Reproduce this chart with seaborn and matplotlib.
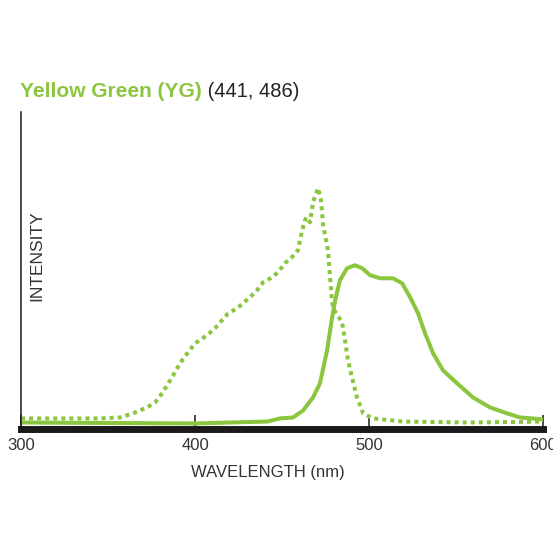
import numpy as np
import pandas as pd
import matplotlib
matplotlib.use("Agg")
import matplotlib.pyplot as plt
import seaborn as sns

# Excitation spectrum (dotted)
ex_nm = [300.0, 322.4, 345.4, 356.9, 364.4, 372.4, 377.0, 381.0, 383.9, 386.8, 389.7,
         392.5, 396.0, 400.0, 406.9, 411.5, 415.5, 419.0, 424.1, 427.6, 431.6, 435.6,
         439.1, 444.3, 447.7, 451.7, 455.7, 459.2, 460.3, 462.1, 463.8, 466.1, 467.8,
         470.7, 472.4, 473.6, 475.3, 476.4, 477.6, 478.7, 479.3, 484.5, 486.2, 487.9,
         490.2, 493.1, 496.6, 502.3, 519.5, 558.0, 600.0]
ex_int = [4.2, 4.2, 4.2, 4.6, 6.3, 8.8, 10.8, 14.6, 17.9, 21.3, 25.0,
          28.3, 31.7, 35.4, 38.8, 41.7, 45.0, 47.9, 50.0, 52.1, 54.6, 57.5,
          60.8, 62.9, 65.0, 68.8, 71.3, 74.2, 78.3, 83.8, 87.9, 85.8, 94.2,
          100.0, 95.0, 84.6, 78.3, 74.2, 62.9, 53.3, 50.0, 44.2, 36.7, 28.3,
          21.3, 12.9, 6.3, 4.2, 2.9, 2.5, 2.9]

# Emission spectrum (solid)
em_nm = [300.0, 400.0, 441.4, 448.9, 456.3, 462.1, 467.8, 471.8, 475.9, 478.7, 480.5,
         483.3, 487.4, 492.0, 496.0, 500.6, 506.3, 513.8, 519.0, 523.6, 528.2, 532.2,
         536.8, 542.5, 550.6, 559.8, 569.5, 579.3, 586.8, 600.0]
em_int = [2.5, 2.1, 2.9, 4.2, 4.6, 7.5, 12.9, 18.8, 32.5, 45.8, 53.3,
          61.7, 66.7, 67.9, 66.7, 63.8, 62.5, 62.5, 60.4, 54.6, 47.9, 39.6,
          31.3, 24.2, 18.8, 12.9, 8.8, 6.3, 4.6, 3.8]

x_ticks = [300, 400, 500, 600]
title_main = "Yellow Green (YG)"
title_sub = " (441, 486)"
x_label = "WAVELENGTH (nm)"
y_label = "INTENSITY"

GREEN = "#8cc63f"

sns.set_style("white")
plt.rcParams['font.family'] = ['Liberation Sans', 'DejaVu Sans']

df_ex = pd.DataFrame({"nm": ex_nm, "intensity": ex_int})
df_em = pd.DataFrame({"nm": em_nm, "intensity": em_int})

fig = plt.figure(figsize=(5.53, 5.54), dpi=100)
ax = fig.add_axes([0.038, 0.2265, 0.944, 0.5715])

sns.lineplot(data=df_ex, x="nm", y="intensity", ax=ax, color=GREEN, lw=2.9,
             linestyle=(0, (1, 1)), dash_capstyle="butt", estimator=None, sort=False)
sns.lineplot(data=df_em, x="nm", y="intensity", ax=ax, color=GREEN, lw=2.9,
             estimator=None, sort=False)
for ln in ax.lines:
    ln.set_solid_joinstyle("round")

ax.set_xlim(300, 600)
ax.set_ylim(0, 131.7)
for s in ["top", "right"]:
    ax.spines[s].set_visible(False)
ax.spines["bottom"].set_linewidth(5)
ax.spines["bottom"].set_color("#1a1a1a")
ax.spines["left"].set_linewidth(1.1)
ax.spines["left"].set_color("#1a1a1a")
ax.set_xticks(x_ticks)
ax.set_xticklabels([str(t) for t in x_ticks])
ax.tick_params(axis="x", direction="in", length=10, width=1.1, color="#1a1a1a",
               labelsize=12, labelcolor="#333333", pad=7, bottom=True)
ax.set_yticks([])
ax.set_xlabel("")
ax.set_ylabel("")

fig.text(268 / 553, 1 - 472 / 554, x_label, ha="center", va="center",
         fontsize=12, color="#333333")
fig.text(37 / 553, 1 - 256 / 554, y_label, ha="center", va="center",
         rotation=90, fontsize=12.5, color="#333333")

t1 = fig.text(20 / 553, 1 - 97 / 554, title_main, ha="left", va="baseline",
              fontsize=15, fontweight="bold", color=GREEN)
fig.canvas.draw()
ax.annotate(title_sub, xy=(1, 0), xycoords=t1, ha="left", va="bottom",
            fontsize=14.5, color="#222222", annotation_clip=False)

fig.savefig("out.png", dpi=100)
